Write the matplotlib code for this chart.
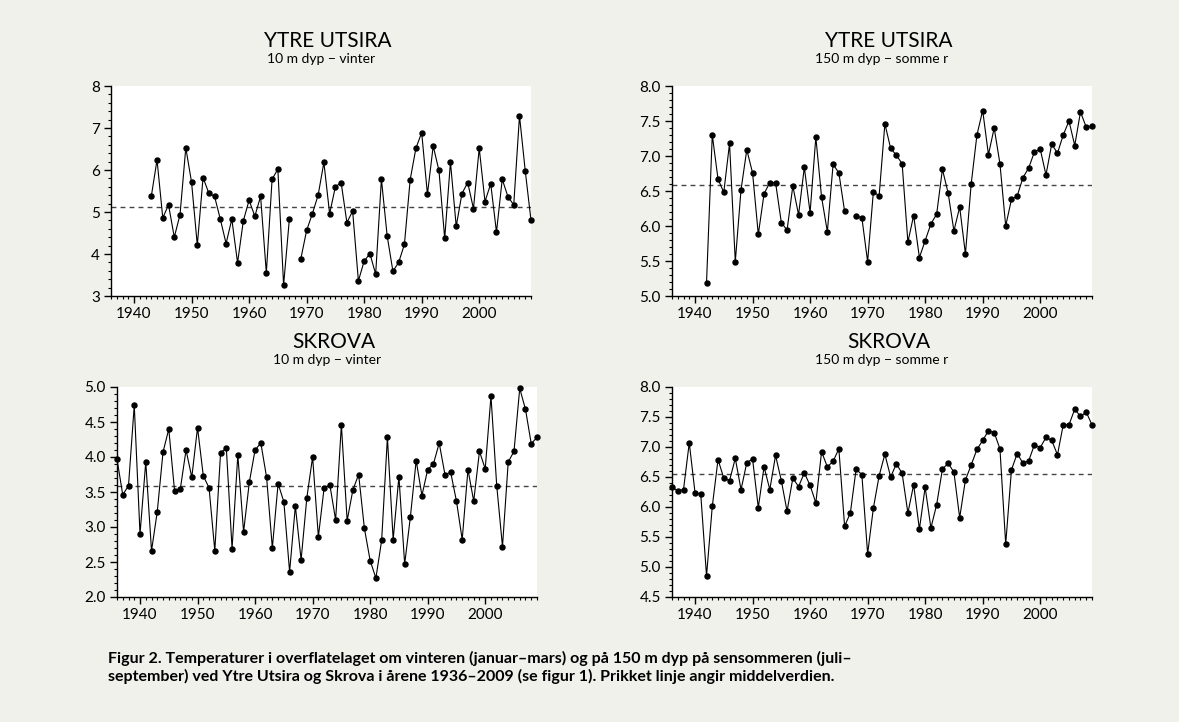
import numpy as np
import matplotlib
matplotlib.use("Agg")
import matplotlib.pyplot as plt
from matplotlib.ticker import MultipleLocator

plt.rcParams['font.family'] = ['Lato', 'DejaVu Sans']

years = np.arange(1936, 2010)

# Ytre Utsira, 10 m, winter (1936-2009, None = no data)
utsira_10 = [None, None, None, None, None, None, None,
             5.37, 6.24, 4.86, 5.17, 4.40, 4.94, 6.53,
             5.71, 4.21, 5.82, 5.45, 5.37, 4.83, 4.25, 4.83, 3.79, 4.79,
             5.28, 4.90, 5.37, 3.55, 5.78, 6.02, 3.26, 4.83, None, 3.89,
             4.56, 4.96, 5.40, 6.18, 4.96, 5.60, 5.70, 4.75, 5.02, 3.36,
             3.83, 4.01, 3.52, 5.78, 4.43, 3.59, 3.80, 4.23, 5.77, 6.52,
             6.89, 5.42, 6.57, 5.99, 4.37, 6.19, 4.66, 5.44, 5.70, 5.08,
             6.52, 5.25, 5.67, 4.52, 5.78, 5.36, 5.17, 7.29, 5.98, 4.80]

# Ytre Utsira, 150 m, late summer
utsira_150 = [None, None, None, None, None, None,
              5.19, 7.30, 6.67, 6.48, 7.18, 5.49, 6.52, 7.09,
              6.76, 5.88, 6.46, 6.62, 6.62, 6.05, 5.94, 6.57, 6.16, 6.84,
              6.19, 7.27, 6.41, 5.92, 6.88, 6.76, 6.21, None, 6.14, 6.12,
              5.49, 6.49, 6.43, 7.46, 7.11, 7.01, 6.89, 5.77, 6.15, 5.55,
              5.79, 6.03, 6.17, 6.81, 6.47, 5.93, 6.27, 5.60, 6.60, 7.30,
              7.65, 7.02, 7.40, 6.89, 6.00, 6.38, 6.43, 6.69, 6.83, 7.06,
              7.10, 6.73, 7.17, 7.04, 7.30, 7.50, 7.15, 7.63, 7.41, 7.43]

# Skrova, 10 m, winter
skrova_10 = [3.97, 3.46, 3.59, 4.74,
             2.90, 3.93, 2.66, 3.22, 4.07, 4.40, 3.52, 3.54, 4.10, 3.71,
             4.42, 3.73, 3.56, 2.66, 4.06, 4.13, 2.69, 4.03, 2.93, 3.64,
             4.10, 4.20, 3.71, 2.70, 3.62, 3.36, 2.36, 3.30, 2.53, 3.42,
             4.00, 2.86, 3.56, 3.60, 3.10, 4.46, 3.09, 3.53, 3.75, 2.98,
             2.52, 2.27, 2.81, 4.28, 2.82, 3.72, 2.47, 3.15, 3.95, 3.45,
             3.82, 3.90, 4.20, 3.75, 3.78, 3.37, 2.82, 3.82, 3.37, 4.08,
             3.83, 4.87, 3.59, 2.72, 3.93, 4.08, 4.98, 4.68, 4.19, 4.28]

# Skrova, 150 m, late summer
skrova_150 = [6.33, 6.27, 6.29, 7.07,
              6.24, 6.21, 4.85, 6.01, 6.79, 6.48, 6.44, 6.81, 6.29, 6.74,
              6.80, 5.99, 6.67, 6.29, 6.86, 6.44, 5.93, 6.48, 6.34, 6.57,
              6.36, 6.07, 6.92, 6.67, 6.76, 6.97, 5.68, 5.90, 6.63, 6.54,
              5.22, 5.98, 6.52, 6.88, 6.50, 6.72, 6.56, 5.90, 6.37, 5.63,
              6.33, 5.65, 6.04, 6.63, 6.73, 6.58, 5.82, 6.45, 6.70, 6.96,
              7.11, 7.27, 7.24, 6.97, 5.38, 6.62, 6.89, 6.73, 6.77, 7.04,
              6.99, 7.16, 7.11, 6.87, 7.37, 7.37, 7.63, 7.51, 7.58, 7.37]

means = [5.12, 6.59, 3.58, 6.55]
titles = ["YTRE UTSIRA", "YTRE UTSIRA", "SKROVA", "SKROVA"]
subtitles = ["10 m dyp \u2212 vinter", "150 m dyp \u2212 somme r",
             "10 m dyp \u2212 vinter", "150 m dyp \u2212 somme r"]
ylims = [(3, 8), (5.0, 8.0), (2.0, 5.0), (4.5, 8.0)]
ymajor = [1, 0.5, 0.5, 0.5]
yminor = [0.2, 0.1, 0.1, 0.1]
yfmt = ["%d", "%.1f", "%.1f", "%.1f"]
series = [utsira_10, utsira_150, skrova_10, skrova_150]

bg = '#f1f1ec'
W, H = 1179, 722
fig = plt.figure(figsize=(W / 100, H / 100), dpi=100, facecolor=bg)

# axes rectangles in pixels: left, top, right, bottom
boxes = [(111, 86, 531, 296), (672, 86, 1092, 296),
         (117, 387, 537, 597), (672, 387, 1092, 597)]
title_y = [41, 41, 342, 342]

for i in range(4):
    l, t, r, b = boxes[i]
    ax = fig.add_axes([l / W, 1 - b / H, (r - l) / W, (b - t) / H])
    ax.set_facecolor('white')
    vals = np.array([np.nan if v is None else v for v in series[i]], dtype=float)
    ax.plot(years, vals, '-o', color='black', lw=0.8, ms=3.6, clip_on=False, zorder=3)
    ax.axhline(means[i], color='#444444', lw=1.0, ls=(0, (3.5, 3)), zorder=2)
    ax.set_xlim(1936, 2009)
    ax.set_ylim(*ylims[i])
    ax.xaxis.set_minor_locator(MultipleLocator(1))
    ax.yaxis.set_major_locator(MultipleLocator(ymajor[i]))
    ax.yaxis.set_minor_locator(MultipleLocator(yminor[i]))
    ax.yaxis.set_major_formatter(matplotlib.ticker.FormatStrFormatter(yfmt[i]))
    ax.set_xticks([1940, 1950, 1960, 1970, 1980, 1990, 2000])
    for s in ['top', 'right']:
        ax.spines[s].set_visible(False)
    for s in ['left', 'bottom']:
        ax.spines[s].set_linewidth(1.0)
    ax.tick_params(which='major', direction='out', length=5, width=1.0, labelsize=11, pad=3)
    ax.tick_params(which='minor', direction='out', length=2.5, width=0.8)
    cx = (l + r) / 2 / W
    fig.text(cx + 0.006, 1 - title_y[i] / H, titles[i], ha='center', va='center', fontsize=15)
    fig.text(cx, 1 - (title_y[i] + 18) / H, subtitles[i], ha='center', va='center', fontsize=10)

caption_1 = ("Figur 2. Temperaturer i overflatelaget om vinteren (januar\u2013mars) "
             "og på 150 m dyp på sensommeren (juli\u2013")
caption_2 = ("september) ved Ytre Utsira og Skrova i årene 1936\u20132009 "
             "(se figur 1). Prikket linje angir middelverdien.")
fig.text(108 / W, 1 - 658 / H, caption_1, ha='left', va='center', fontsize=11.5, fontweight='bold')
fig.text(108 / W, 1 - 676 / H, caption_2, ha='left', va='center', fontsize=11.5, fontweight='bold')

fig.savefig('out.png', dpi=100, facecolor=bg)
